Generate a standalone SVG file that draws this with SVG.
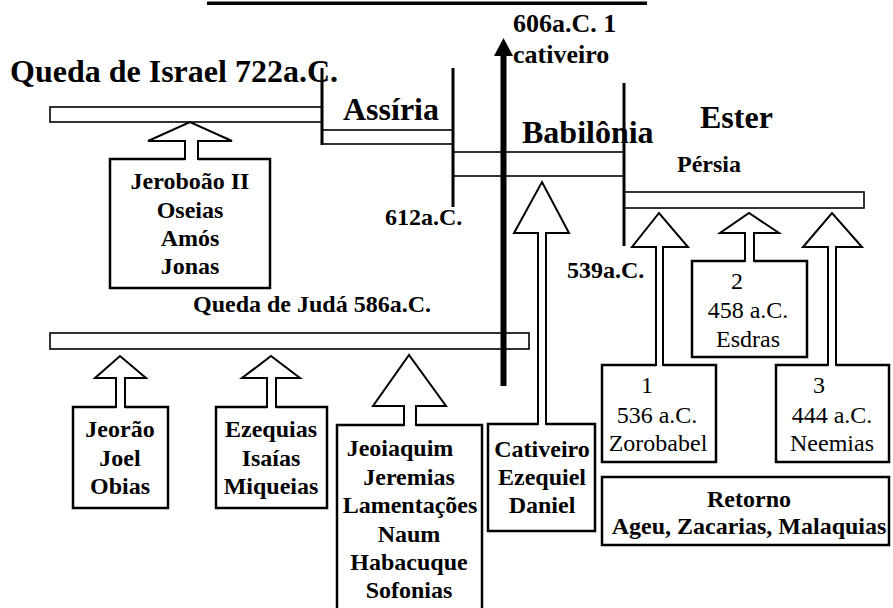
<svg xmlns="http://www.w3.org/2000/svg" width="893" height="608" viewBox="0 0 893 608">
<style>
text{font-family:"Liberation Serif","Times New Roman",serif;fill:#000}
.b{font-weight:bold}
.big{font-size:32px;font-weight:bold}
.med{font-size:24px;font-weight:bold}
.t24{font-size:24px}
.box{fill:#fff;stroke:#000;stroke-width:2.5}
.bar{fill:#fff;stroke:#000;stroke-width:1.6}
.per{stroke:#000;stroke-width:3;fill:none}
.ah{fill:none;stroke:#000;stroke-width:2;stroke-linejoin:miter}
.af{fill:#fff;stroke:none}
.c{text-anchor:middle}
</style>

<g id="timeline">
  <line x1="207" y1="3.3" x2="647" y2="3.3" stroke="#000" stroke-width="3.4"/>
  <rect class="bar" x="50" y="107" width="272" height="15"/>
  <rect class="bar" x="322" y="130" width="131" height="14"/>
  <rect class="bar" x="453" y="152" width="171" height="24"/>
  <rect class="bar" x="624" y="192" width="240" height="16"/>
  <rect class="bar" x="50" y="333" width="479" height="16"/>
  <line class="per" x1="322" y1="68" x2="322" y2="145"/>
  <line class="per" x1="453" y1="68" x2="453" y2="207"/>
  <line class="per" x1="624" y1="83" x2="624" y2="246"/>
</g>

<g id="labels">
  <text class="big" x="10" y="82">Queda de Israel 722a.C.</text>
  <text class="big" x="343" y="120">Assíria</text>
  <text class="big" x="522" y="143">Babilônia</text>
  <text class="big" x="700" y="128">Ester</text>
  <text class="med" x="677" y="172">Pérsia</text>
  <text class="b" style="font-size:26px" x="513" y="32">606a.C. 1</text>
  <text class="b" style="font-size:26px" x="513" y="63">cativeiro</text>
  <text class="med" x="385" y="225">612a.C.</text>
  <text class="med" x="567" y="278">539a.C.</text>
  <text class="med" x="193" y="312">Queda de Judá 586a.C.</text>
</g>

<g id="node-jeroboao">
  <rect class="box" x="110" y="159" width="160" height="129"/>
  <text class="med c" x="190" y="189">Jeroboão II</text>
  <text class="med c" x="190" y="218">Oseias</text>
  <text class="med c" x="190" y="246">Amós</text>
  <text class="med c" x="190" y="274">Jonas</text>
</g>

<g id="node-jeorao">
  <rect class="box" x="73" y="407" width="95" height="101"/>
  <text class="med c" x="120" y="437">Jeorão</text>
  <text class="med c" x="120" y="466">Joel</text>
  <text class="med c" x="120" y="494">Obias</text>
</g>

<g id="node-ezequias">
  <rect class="box" x="216" y="407" width="111" height="101"/>
  <text class="med c" x="271" y="437">Ezequias</text>
  <text class="med c" x="271" y="466">Isaías</text>
  <text class="med c" x="271" y="494">Miqueias</text>
</g>

<g id="node-jeoiaquim">
  <rect class="box" x="337" y="425" width="145" height="200"/>
  <text class="med c" x="400" y="456">Jeoiaquim</text>
  <text class="med c" x="409" y="485">Jeremias</text>
  <text class="med c" x="410" y="513">Lamentações</text>
  <text class="med c" x="409" y="542">Naum</text>
  <text class="med c" x="409" y="570">Habacuque</text>
  <text class="med c" x="409" y="598">Sofonias</text>
</g>

<g id="node-cativeiro">
  <rect class="box" x="488" y="424" width="107" height="107"/>
  <text class="med c" x="542" y="457">Cativeiro</text>
  <text class="med c" x="542" y="485">Ezequiel</text>
  <text class="med c" x="542" y="513">Daniel</text>
</g>

<g id="node-retorno1">
  <rect class="box" x="602" y="365" width="114" height="97"/>
  <text class="t24 c" x="647" y="393">1</text>
  <text class="t24 c" x="657" y="423">536 a.C.</text>
  <text class="t24 c" x="658" y="451">Zorobabel</text>
</g>

<g id="node-retorno2">
  <rect class="box" x="692" y="261" width="115" height="96"/>
  <text class="t24 c" x="737" y="289">2</text>
  <text class="t24 c" x="748" y="318">458 a.C.</text>
  <text class="t24 c" x="748" y="347">Esdras</text>
</g>

<g id="node-retorno3">
  <rect class="box" x="776" y="365" width="113" height="97"/>
  <text class="t24 c" x="819" y="393">3</text>
  <text class="t24 c" x="832" y="423">444 a.C.</text>
  <text class="t24 c" x="832" y="451">Neemias</text>
</g>

<g id="node-retorno">
  <rect class="box" x="602" y="477" width="287" height="68"/>
  <text class="med c" x="749" y="507">Retorno</text>
  <text class="med c" x="749" y="534">Ageu, Zacarias, Malaquias</text>
</g>

<g id="connectors">
  <!-- Jeroboão -->
  <polygon class="af" points="185,161 185,141 148,141 190,122 232,141 198,141 198,161"/>
  <path class="ah" d="M185,160 V141 H148 L190,122 L232,141 H198 V160"/>
  <!-- Jeorão -->
  <polygon class="af" points="116,409 116,378 95,378 120,356 146,378 125,378 125,409"/>
  <path class="ah" d="M116,408 V378 H95 L120,356 L146,378 H125 V408"/>
  <!-- Ezequias -->
  <polygon class="af" points="267,409 267,378 242,378 271,356 300,378 276,378 276,409"/>
  <path class="ah" d="M267,408 V378 H242 L271,356 L300,378 H276 V408"/>
  <!-- Jeoiaquim -->
  <polygon class="af" points="404,427 404,406 373,406 409,355 446,406 416,406 416,427"/>
  <path class="ah" d="M404,426 V406 H373 L409,355 L446,406 H416 V426"/>
  <!-- Cativeiro -->
  <polygon class="af" points="538,426 538,233 514,233 542,182 569,233 546,233 546,426"/>
  <path class="ah" d="M538,425 V233 H514 L542,182 L569,233 H546 V425"/>
  <!-- Retorno 1 -->
  <polygon class="af" points="656,367 656,247 632,247 659,213 688,247 663,247 663,367"/>
  <path class="ah" d="M656,366 V247 H632 L659,213 L688,247 H663 V366"/>
  <!-- Retorno 2 -->
  <polygon class="af" points="745,263 745,233 720,233 749,213 779,233 754,233 754,263"/>
  <path class="ah" d="M745,262 V233 H720 L749,213 L779,233 H754 V262"/>
  <!-- Retorno 3 -->
  <polygon class="af" points="828,367 828,247 803,247 832,213 862,247 836,247 836,367"/>
  <path class="ah" d="M828,366 V247 H803 L832,213 L862,247 H836 V366"/>
  <!-- thick arrow 606 a.C. -->
  <line x1="503.5" y1="386" x2="503.5" y2="52" stroke="#000" stroke-width="6"/>
  <polygon points="503.5,38 494,56 513,56" fill="#000"/>
</g>
</svg>
